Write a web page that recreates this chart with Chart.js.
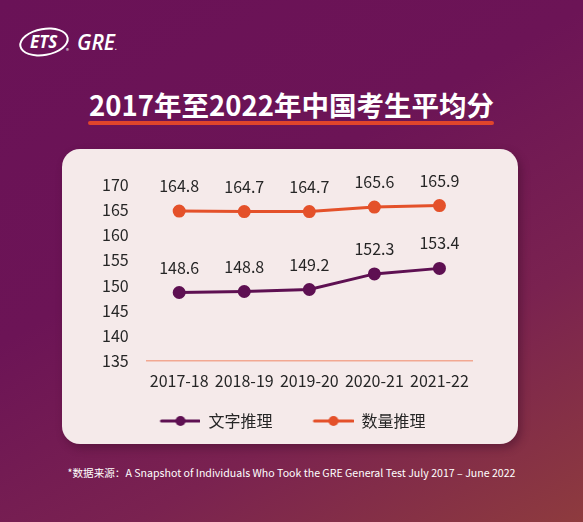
<!DOCTYPE html>
<html>
<head>
<meta charset="utf-8">
<script src="https://cdn.jsdelivr.net/npm/chart.js@4.4.1/dist/chart.umd.min.js"></script>
<style>
  html, body { margin: 0; padding: 0; }
  body {
    width: 583px; height: 522px; overflow: hidden; position: relative;
    background: linear-gradient(150deg, #6a1257 0%, #6c1456 40%, #7a2250 70%, #8e3b3e 100%);
    font-family: "Noto Sans CJK SC", "Noto Sans", sans-serif;
  }
  .logo-ets {
    position: absolute; left: 19px; top: 28px; width: 46px; height: 24px;
    border: 2px solid #fff; border-radius: 50%; transform: rotate(-10deg);
    color: #fff; font: italic 700 17px "Open Sans", sans-serif; text-align: center; line-height: 24px;
  }
  .logo-ets span { display: inline-block; transform: rotate(10deg); }
  .logo-r { position: absolute; left: 66px; top: 46px; color: #fff; font-size: 6px; }
  .logo-gre {
    position: absolute; left: 77px; top: 28px; color: #fff;
    font: italic 600 21px "Open Sans", sans-serif;
  }
  .title {
    position: absolute; left: 0; width: 583px; top: 85px; text-align: center;
    color: #fff; font-size: 27.5px; font-weight: 700; line-height: 38px;
  }
  .underline {
    position: absolute; left: 88px; width: 406px; top: 121px; height: 4px;
    background: #e0452b; border-radius: 2px;
  }
  .card {
    position: absolute; left: 62px; top: 149px; width: 456px; height: 295px;
    background: #f5eaea; border-radius: 18px;
    box-shadow: 3px 4px 8px rgba(60, 10, 40, 0.45);
  }
  .card canvas { display: block; }
  .note {
    position: absolute; left: 0; width: 583px; top: 465px; text-align: center;
    color: #fff; font-size: 10.6px; line-height: 16px;
  }
</style>
</head>
<body>
<div class="logo-ets"><span>ETS</span></div>
<div class="logo-r">®</div>
<div class="logo-gre">GRE<span style="font-size:8px">.</span></div>
<div class="title">2017年至2022年中国考生平均分</div>
<div class="underline"></div>
<div class="card"><canvas id="scoreChart" width="456" height="295"></canvas></div>
<div class="note">*数据来源：A Snapshot of Individuals Who Took the GRE General Test July 2017 – June 2022</div>

<script>
  const years = ['2017-18', '2018-19', '2019-20', '2020-21', '2021-22'];
  const verbal = [148.6, 148.8, 149.2, 152.3, 153.4];
  const quant = [164.8, 164.7, 164.7, 165.6, 165.9];
  const yTicks = [135, 140, 145, 150, 155, 160, 165, 170];

  const purple = '#5e1052';
  const orange = '#e4512a';
  const textColor = '#262626';
  const fontFamily = '"Noto Sans CJK SC", "Noto Sans", sans-serif';

  // line + dot picture for the legend, with some empty room on the left
  function legendMark(color) {
    const c = document.createElement('canvas');
    c.width = 70; c.height = 12;
    const g = c.getContext('2d');
    g.strokeStyle = color; g.lineWidth = 3; g.lineCap = 'round';
    g.beginPath(); g.moveTo(31, 6); g.lineTo(69, 6); g.stroke();
    g.fillStyle = color;
    g.beginPath(); g.arc(50, 6, 5, 0, Math.PI * 2); g.fill();
    return c;
  }

  const valueLabels = {
    id: 'valueLabels',
    afterDatasetsDraw(chart) {
      const ctx = chart.ctx;
      ctx.save();
      ctx.font = '16px ' + fontFamily;
      ctx.fillStyle = textColor;
      ctx.textAlign = 'center';
      ctx.textBaseline = 'middle';
      chart.data.datasets.forEach((ds, i) => {
        chart.getDatasetMeta(i).data.forEach((pt, j) => {
          ctx.fillText(ds.data[j].toFixed(1), pt.x, pt.y - 25);
        });
      });
      ctx.restore();
    }
  };

  const ctx = document.getElementById('scoreChart').getContext('2d');

  const scoreChart = new Chart(ctx, {
    type: 'line',
    data: {
      labels: years,
      datasets: [
        {
          label: '文字推理',
          data: verbal,
          borderColor: purple,
          backgroundColor: purple,
          pointBackgroundColor: purple,
          pointBorderColor: purple,
          borderWidth: 3,
          pointRadius: 5
        },
        {
          label: '数量推理',
          data: quant,
          borderColor: orange,
          backgroundColor: orange,
          pointBackgroundColor: orange,
          pointBorderColor: orange,
          borderWidth: 3,
          pointRadius: 5
        }
      ]
    },
    options: {
      responsive: false,
      animation: false,
      layout: { padding: { left: 22, right: 46, top: 36, bottom: 5 } },
      plugins: {
        tooltip: { enabled: false },
        legend: {
          position: 'bottom',
          labels: {
            usePointStyle: true,
            pointStyleWidth: 70,
            padding: 11,
            color: textColor,
            font: { size: 16, family: fontFamily },
            generateLabels(chart) {
              return chart.data.datasets.map((ds, i) => ({
                text: ds.label,
                pointStyle: legendMark(ds.borderColor),
                fontColor: textColor,
                datasetIndex: i,
                lineWidth: 0
              }));
            }
          }
        }
      },
      scales: {
        x: {
          offset: true,
          grid: { display: false, drawTicks: false },
          border: { display: true, color: '#f2a892', width: 1.5 },
          ticks: { color: textColor, padding: 11, font: { size: 16, family: fontFamily } }
        },
        y: {
          min: yTicks[0],
          max: yTicks[yTicks.length - 1],
          afterBuildTicks(axis) { axis.ticks = yTicks.map(v => ({ value: v })); },
          grid: { display: false, drawTicks: false },
          border: { display: false },
          ticks: { color: textColor, padding: 18, font: { size: 16, family: fontFamily } }
        }
      }
    },
    plugins: [valueLabels]
  });
</script>
</body>
</html>
